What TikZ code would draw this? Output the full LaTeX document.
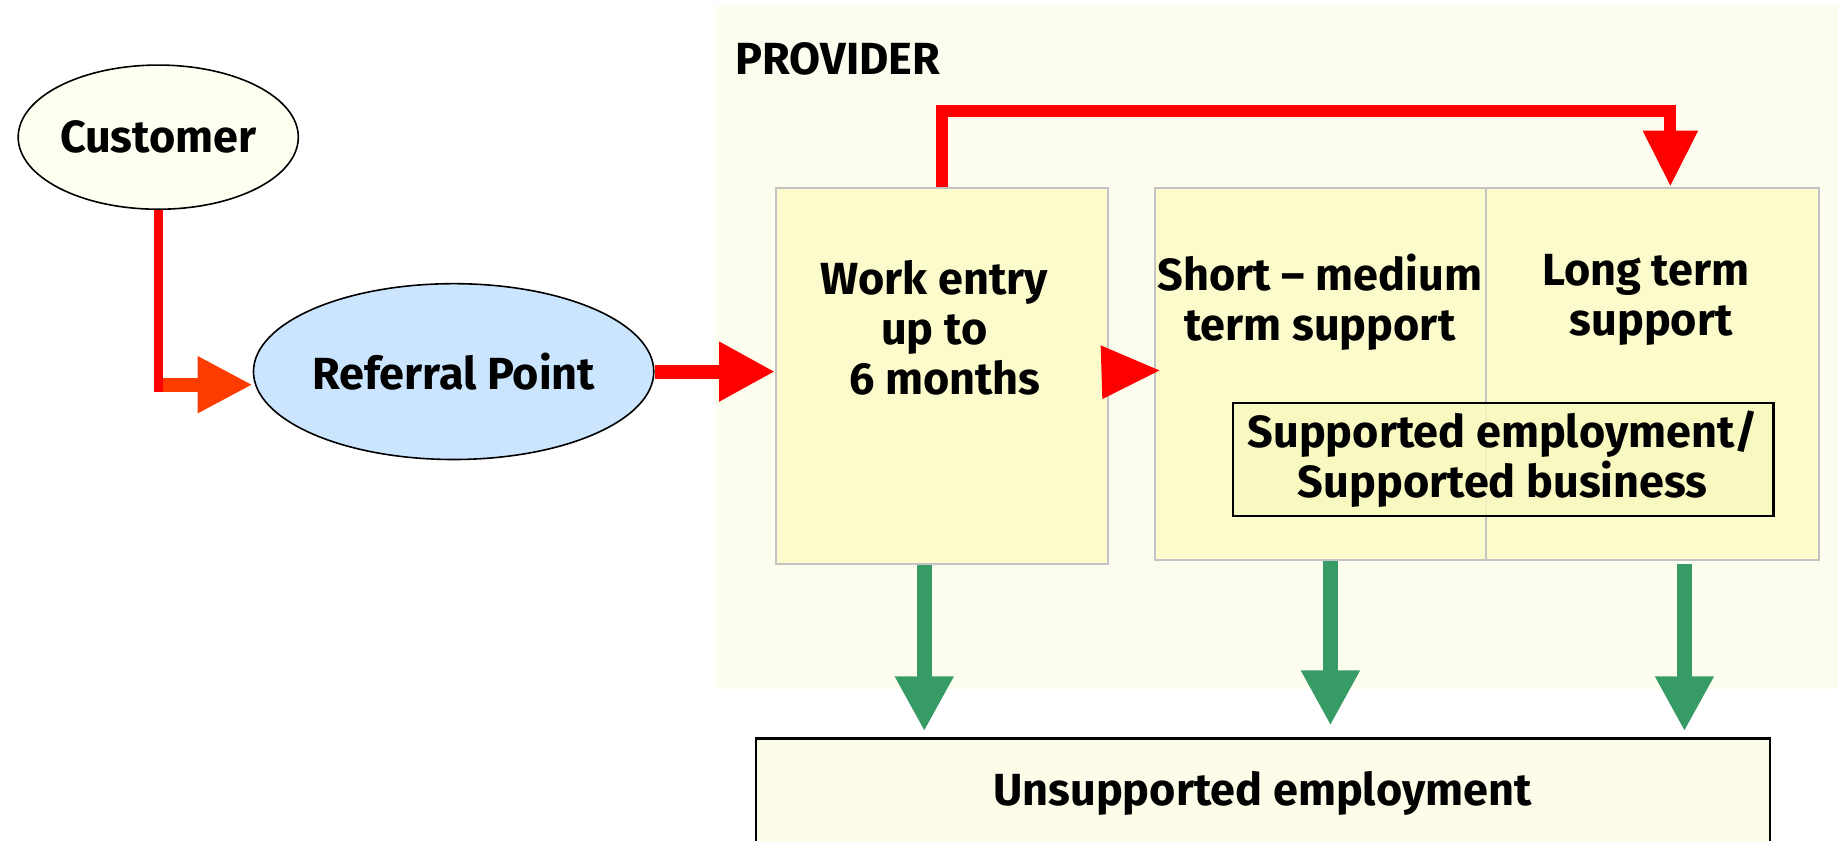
\documentclass[tikz,border=0pt]{standalone}
\usepackage{fontspec}
\setmainfont{Fira Sans}
\usetikzlibrary{arrows.meta,shapes.geometric,calc,fit}
\definecolor{provbg}{RGB}{253,253,239}
\definecolor{boxfill}{RGB}{252,251,204}
\definecolor{boxline}{RGB}{195,195,195}
\definecolor{custfill}{RGB}{254,254,241}
\definecolor{reffill}{RGB}{204,229,255}
\definecolor{supfill}{RGB}{248,248,192}
\definecolor{unsfill}{RGB}{252,252,232}
\definecolor{arrred}{RGB}{255,0,0}
\definecolor{arrorange}{RGB}{255,60,0}
\definecolor{arrgreen}{RGB}{54,155,101}
\def\ux{0.5861pt}
\begin{document}
\begin{tikzpicture}[x=0.5861pt,y=-0.5861pt,
  txt/.style={font=\fontsize{22.5}{25}\selectfont\bfseries, align=center, inner sep=0pt},
  stagebox/.style={fill=boxfill, draw=boxline, line width=1pt, inner sep=0pt},
  blackbox/.style={draw=black, line width=1.2pt, inner sep=0pt},
  redconn/.style={draw=arrred, line width=6pt},
  redarr/.style={draw=arrred, line width=7pt, -{Triangle[length=28pt,width=28pt]}},
  greenarr/.style={draw=arrgreen, line width=7.6pt, -{Triangle[length=27.5pt,width=27.5pt]}},
]
\clip (0,0) rectangle (1568,717);
\fill[white] (0,0) rectangle (1568,717);
% provider background
\node[fit={(610,5) (1580,588)}, inner sep=0pt, fill=provbg] (prov) {};
\node[txt, anchor=west] (provlbl) at (627,50) {PROVIDER};
% ellipses
\node[ellipse, draw=black, line width=0.8pt, fill=custfill, minimum width=239*\ux, minimum height=123*\ux, inner sep=0pt, txt] (cust) at (135,117) {Customer};
\node[ellipse, draw=black, line width=0.8pt, fill=reffill, minimum width=340*\ux, minimum height=150*\ux, inner sep=0pt, txt] (ref) at (387,317) {Referral Point};
% stage boxes
\node[stagebox, fit={(662,160) (945,481)}] (work) {};
\node[stagebox, fit={(985,160) (1268,478)}] (short) {};
\node[stagebox, fit={(1268,160) (1552,478)}] (long) {};
\node[txt] (worktxt) at (797,280) {Work entry\\up to\\\ \ 6 months};
\node[txt] (shorttxt) at (1126,258) {Short – medium\\term support};
\node[txt] (longtxt) at (1404,256) {Long term\\\ support};
\node[blackbox, fill=supfill, fill opacity=0.85, text opacity=1, fit={(1052,344) (1513,440)}] (sup) {};
\node[txt] (suptxt) at (1282,392) {Supported employment/\\Supported business};
\node[blackbox, fill=unsfill, fit={(645,630) (1510,724)}] (uns) {};
\node[txt] (unstxt) at (1077,677) {Unsupported employment};
% customer -> referral
\coordinate (c1) at ($(cust.south)+(0,155)$);
\draw[draw=arrred, line width=4.7pt] (cust.south) -- (c1);
\coordinate (c2) at ($(c1)+(4,-6)$);
\draw[draw=arrorange, line width=7pt, -{Triangle[length=27.5pt,width=26.5pt]}] (c2) -- (c2 -| ref.west);
% referral -> work entry
\draw[redarr] (ref.east) -- (ref.east -| work.west);
% work entry -> short
\draw[draw=arrred, line width=1.5pt, -{Triangle[length=29pt,width=26.5pt]}] ($(work.east)+(-5,-3)$) -- ($(short.west)+(5,-3)$);
% work entry -> long term (top route)
\coordinate (tr) at (1425,95);
\draw[redconn, -{Triangle[length=28pt,width=26pt]}] (work.north) |- (tr) -- (tr |- long.north);
% green arrows down
\coordinate (g1) at ($(work.south)+(-15,0)$);
\coordinate (g2) at ($(short.south)+(8.5,0)$);
\coordinate (g3) at ($(long.south)+(27,2)$);
\draw[greenarr, shorten >=3pt] (g1) -- (g1 |- uns.north);
\draw[greenarr, shorten >=5.9pt] (g2) -- (g2 |- uns.north);
\draw[greenarr, shorten >=3pt] (g3) -- (g3 |- uns.north);
\end{tikzpicture}
\end{document}
